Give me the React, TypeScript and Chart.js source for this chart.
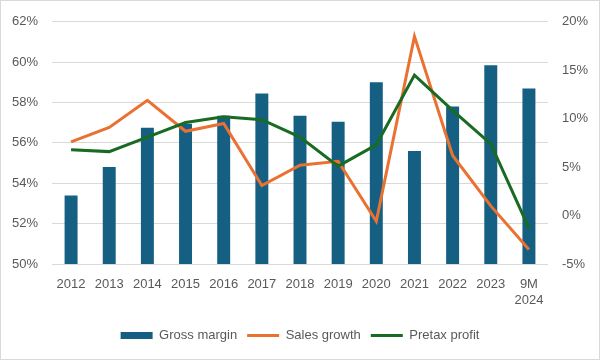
import React, { useEffect, useRef } from "react";
import { Chart, registerables } from "chart.js";

Chart.register(...registerables);

const categories: (string | string[])[] = ["2012", "2013", "2014", "2015", "2016", "2017", "2018", "2019", "2020", "2021", "2022", "2023", ["9M", "2024"]];
const grossMargin = [53.4, 54.8, 56.75, 56.95, 57.35, 58.45, 57.35, 57.05, 59.0, 55.6, 57.8, 59.85, 58.7];
const salesGrowth = [7.6, 9.1, 11.9, 8.7, 9.5, 3.1, 5.2, 5.6, -0.6, 18.5, 6.2, 1.0, -3.5];
const pretaxProfit = [6.8, 6.6, 8.1, 9.6, 10.2, 9.9, 8.1, 5.1, 7.3, 14.5, 10.85, 7.4, -1.3];

const FONT = "'Liberation Sans', Arial, sans-serif";
const TEXT = "#595959";

export default function App() {
  const ref = useRef<HTMLCanvasElement | null>(null);
  useEffect(() => {
    document.body.style.margin = "0";
    if (!ref.current) return;
    const chart = new Chart(ref.current, {
      data: {
        labels: categories,
        datasets: [
          {
            type: "bar",
            label: "Gross margin",
            data: grossMargin,
            backgroundColor: "#156082",
            yAxisID: "y",
            order: 3,
            barPercentage: 0.68,
            categoryPercentage: 0.5,
            pointStyle: "rect",
          },
          {
            type: "line",
            label: "Sales growth",
            data: salesGrowth,
            borderColor: "#E97132",
            backgroundColor: "#E97132",
            borderWidth: 3,
            pointRadius: 0,
            tension: 0,
            yAxisID: "y1",
            order: 2,
            pointStyle: "line",
          },
          {
            type: "line",
            label: "Pretax profit",
            data: pretaxProfit,
            borderColor: "#196B24",
            backgroundColor: "#196B24",
            borderWidth: 3,
            pointRadius: 0,
            tension: 0,
            yAxisID: "y1",
            order: 1,
            pointStyle: "line",
          },
        ],
      } as any,
      options: {
        responsive: false,
        animation: false,
        layout: { padding: { top: 16, left: 0, right: 0, bottom: 8 } },
        plugins: {
          tooltip: { enabled: false },
          legend: {
            position: "bottom",
            labels: {
              usePointStyle: true,
              pointStyleWidth: 32,
              boxHeight: 7,
              padding: 10,
              color: TEXT,
              font: { family: FONT, size: 13 },
              sort: (a: any, b: any) => a.datasetIndex - b.datasetIndex,
            },
          },
        },
        scales: {
          x: {
            grid: { display: false },
            border: { display: false },
            ticks: { color: TEXT, font: { family: FONT, size: 13 }, padding: 5, maxRotation: 0, autoSkip: false },
            afterFit: (s: any) => { s.height = 55; },
          },
          y: {
            position: "left",
            min: 50,
            max: 62,
            ticks: { stepSize: 2, color: TEXT, font: { family: FONT, size: 13 }, padding: 14, callback: (v: any) => `${v}%` },
            grid: { color: "#d9d9d9", lineWidth: 1, drawTicks: false },
            border: { display: false },
            afterFit: (s: any) => { s.width = 52; },
          },
          y1: {
            position: "right",
            min: -5,
            max: 20,
            ticks: { stepSize: 5, color: TEXT, font: { family: FONT, size: 13 }, padding: 14, callback: (v: any) => `${v}%` },
            grid: { display: false, drawTicks: false },
            border: { display: false },
            afterFit: (s: any) => { s.width = 52; },
          },
        },
      } as any,
    });
    return () => chart.destroy();
  }, []);
  return (
    <div style={{ position: "relative", width: 600, height: 360, boxSizing: "border-box", border: "1px solid #d9d9d9", background: "#fff" }}>
      <canvas ref={ref} width={600} height={360} style={{ position: "absolute", left: -1, top: -1 }} />
    </div>
  );
}
